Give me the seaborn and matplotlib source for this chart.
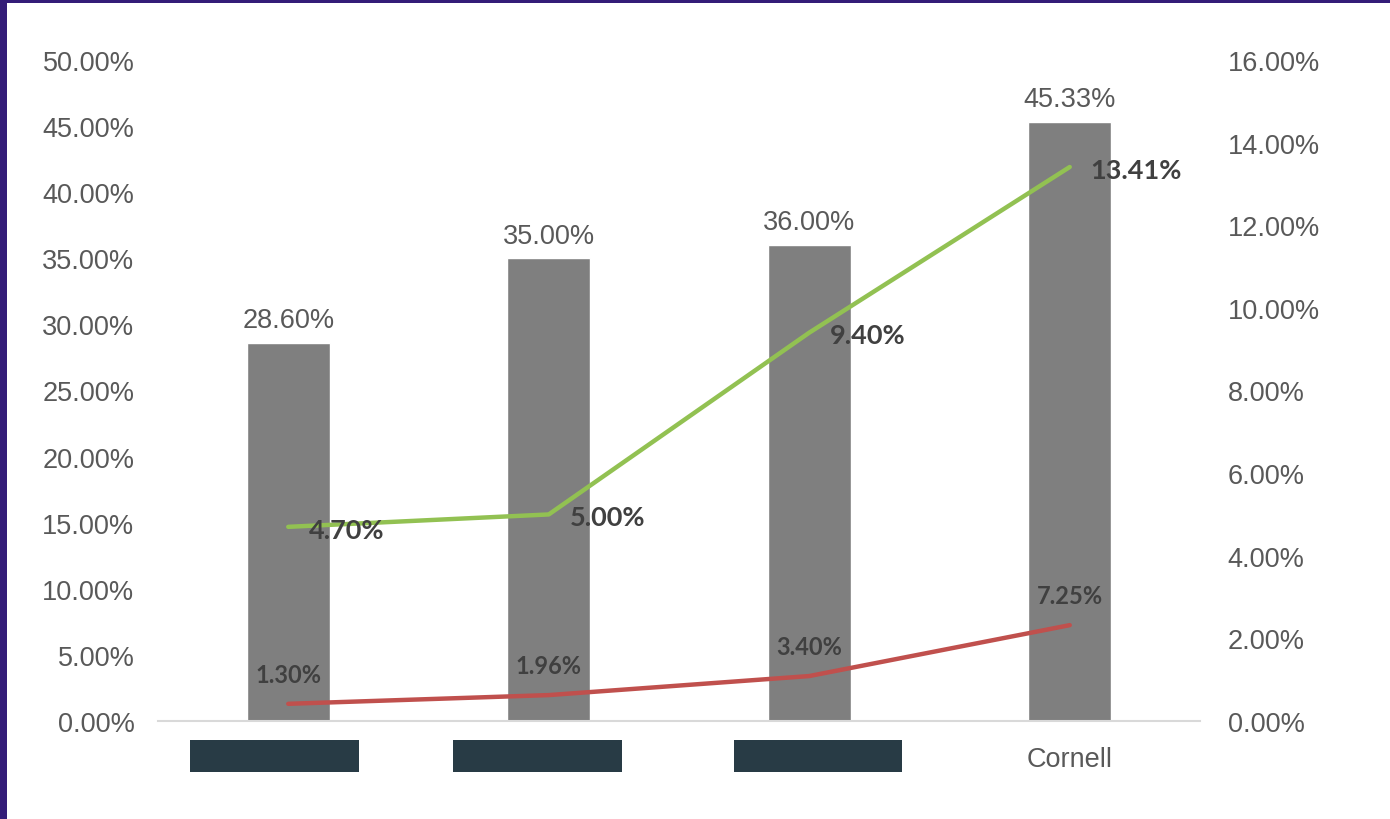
import numpy as np
import pandas as pd
import matplotlib
matplotlib.use("Agg")
import matplotlib.pyplot as plt
import matplotlib.transforms as mtransforms
from matplotlib.patches import Rectangle
import seaborn as sns

# ---- data ----
categories = ["[redacted 1]", "[redacted 2]", "[redacted 3]", "Cornell"]
redacted = [True, True, True, False]
bar_values = [28.60, 35.00, 36.00, 45.33]      # left axis (%)
green_values = [4.70, 5.00, 9.40, 13.41]       # right axis (%)
red_values = [1.30, 1.96, 3.40, 7.25]          # left axis (%)
left_ticks = [0, 5, 10, 15, 20, 25, 30, 35, 40, 45, 50]
right_ticks = [0, 2, 4, 6, 8, 10, 12, 14, 16]

# ---- style ----
sns.set_theme(style="white")
plt.rcParams["font.family"] = ["Liberation Sans", "DejaVu Sans"]

BAR_C = "#7f7f7f"
GREEN_C = "#92c152"
RED_C = "#c0504d"
TXT_C = "#595959"
LBL_C = "#404040"
BORDER_C = "#341c78"
BOX_C = "#283b45"

fig = plt.figure(figsize=(13.9, 8.2), dpi=100)
ax = fig.add_axes([158 / 1390, 1 - 722 / 820, (1200 - 158) / 1390, (722 - 61) / 820])

df = pd.DataFrame({"cat": categories, "bar": bar_values})
sns.barplot(data=df, x="cat", y="bar", color=BAR_C, saturation=1, width=0.318,
            ax=ax, zorder=2)
xpos = np.arange(len(categories))
sns.lineplot(x=xpos, y=red_values, ax=ax, color=RED_C, linewidth=3.2, zorder=4)

ax.set_xlim(-0.5, len(categories) - 0.5)
ax.set_ylim(0, 50)
ax.set_yticks(left_ticks)
ax.set_yticklabels([f"{t:.2f}%" for t in left_ticks], color=TXT_C, fontsize=19.5)
ax.tick_params(axis="y", length=0, pad=17)
ax.set_xticks(xpos)
ax.set_xticklabels([("" if r else c) for c, r in zip(categories, redacted)],
                   color=TXT_C, fontsize=19.5)
ax.tick_params(axis="x", length=0, pad=18)
ax.set_xlabel("")
ax.set_ylabel("")
for s in ["top", "right", "left"]:
    ax.spines[s].set_visible(False)
ax.spines["bottom"].set_color("#d9d9d9")
ax.spines["bottom"].set_linewidth(1.5)
ax.grid(False)

# bar value labels
for x, v in zip(xpos, bar_values):
    ax.annotate(f"{v:.2f}%", (x, v), xytext=(0, 7), textcoords="offset points",
                ha="center", va="bottom", fontsize=19.5, color=TXT_C)

# red labels
for x, v in zip(xpos, red_values):
    ax.annotate(f"{v:.2f}%", (x, v), xytext=(0, 13), textcoords="offset points",
                ha="center", va="bottom", fontsize=17, color=LBL_C,
                fontweight="bold", family=["Lato", "DejaVu Sans"], zorder=5)

# secondary axis
ax2 = ax.twinx()
sns.lineplot(x=xpos, y=green_values, ax=ax2, color=GREEN_C, linewidth=3.2, zorder=4)
ax2.set_ylim(0, 16)
ax2.set_yticks(right_ticks)
ax2.set_yticklabels([f"{t:.2f}%" for t in right_ticks], color=TXT_C, fontsize=19.5)
ax2.tick_params(axis="y", length=0, pad=20)
ax2.set_ylabel("")
for s in ["top", "right", "left", "bottom"]:
    ax2.spines[s].set_visible(False)
ax2.grid(False)

for x, v in zip(xpos, green_values):
    ax2.annotate(f"{v:.2f}%", (x, v), xytext=(15, -2), textcoords="offset points",
                 ha="left", va="center", fontsize=19.5, color=LBL_C,
                 fontweight="bold", family=["Lato", "DejaVu Sans"], zorder=5)

# redaction boxes over hidden category labels
box_offsets = [-0.052, -0.044, 0.033, 0.0]
trans = mtransforms.blended_transform_factory(ax.transData, ax.transAxes)
for x, r, off in zip(xpos, redacted, box_offsets):
    if r:
        w = 0.6475
        ax.add_patch(Rectangle((x + off - w / 2, -0.0772), w, 0.0485,
                               transform=trans, facecolor=BOX_C, edgecolor="none",
                               clip_on=False, zorder=6))

# purple frame (left and top edges)
fig.patches.append(Rectangle((0, 0), 7 / 1390, 1, transform=fig.transFigure,
                             facecolor=BORDER_C, edgecolor="none", zorder=10))
fig.patches.append(Rectangle((0, 1 - 4 / 820), 1, 4 / 820, transform=fig.transFigure,
                             facecolor=BORDER_C, edgecolor="none", zorder=10))

fig.savefig("out.png", dpi=100, facecolor="white")
